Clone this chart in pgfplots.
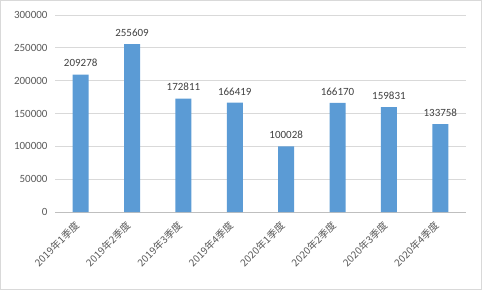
\documentclass[border=0pt]{standalone}
\usepackage{pgfplots}
\pgfplotsset{compat=1.18}
\usepackage{fontspec}
\setmainfont{Carlito}
\newfontfamily\cjk{Noto Sans CJK SC}
\definecolor{barblue}{HTML}{5B9BD5}
\definecolor{gridc}{HTML}{D9D9D9}
\definecolor{axc}{HTML}{BFBFBF}
\definecolor{txt}{HTML}{595959}
\definecolor{lbl}{HTML}{404040}
\begin{document}
\begin{tikzpicture}[x=1bp,y=1bp]
\draw[draw=gridc, line width=1bp] (0.5,0.5) rectangle (481.5,289.5);
\begin{axis}[
  at={(55bp,78bp)}, anchor=south west,
  scale only axis, width=411bp, height=197bp,
  ymin=0, ymax=300000, ytick={0,50000,...,300000},
  xmin=-0.5, xmax=7.5, xtick=data,
  xticklabels={2019年1季度,2019年2季度,2019年3季度,2019年4季度,2020年1季度,2020年2季度,2020年3季度,2020年4季度},
  ymajorgrids, grid style={draw=gridc, line width=0.75bp},
  axis x line*=bottom, axis y line*=left,
  y axis line style={draw=none},
  x axis line style={draw=axc, line width=0.75bp},
  major tick length=0pt, tick style={draw=none},
  scaled y ticks=false,
  /pgf/number format/.cd, fixed, precision=0, 1000 sep={}, assume math mode=true, /pgfplots/.cd,
  yticklabel style={font=\fontsize{11bp}{13bp}\selectfont, text=txt, xshift=-4bp},
  xticklabel style={font=\cjk\fontsize{10bp}{12bp}\selectfont, text=txt, xshift=-1bp, yshift=-9bp, rotate=45, anchor=east},
  ybar, bar width=16bp,
  nodes near coords,
  nodes near coords style={font=\fontsize{11bp}{13bp}\selectfont, text=lbl, yshift=4bp},
]
\addplot[fill=barblue, draw=none] coordinates {
(0,209278) (1,255609) (2,172811) (3,166419) (4,100028) (5,166170) (6,159831) (7,133758)
};
\end{axis}
\end{tikzpicture}
\end{document}
